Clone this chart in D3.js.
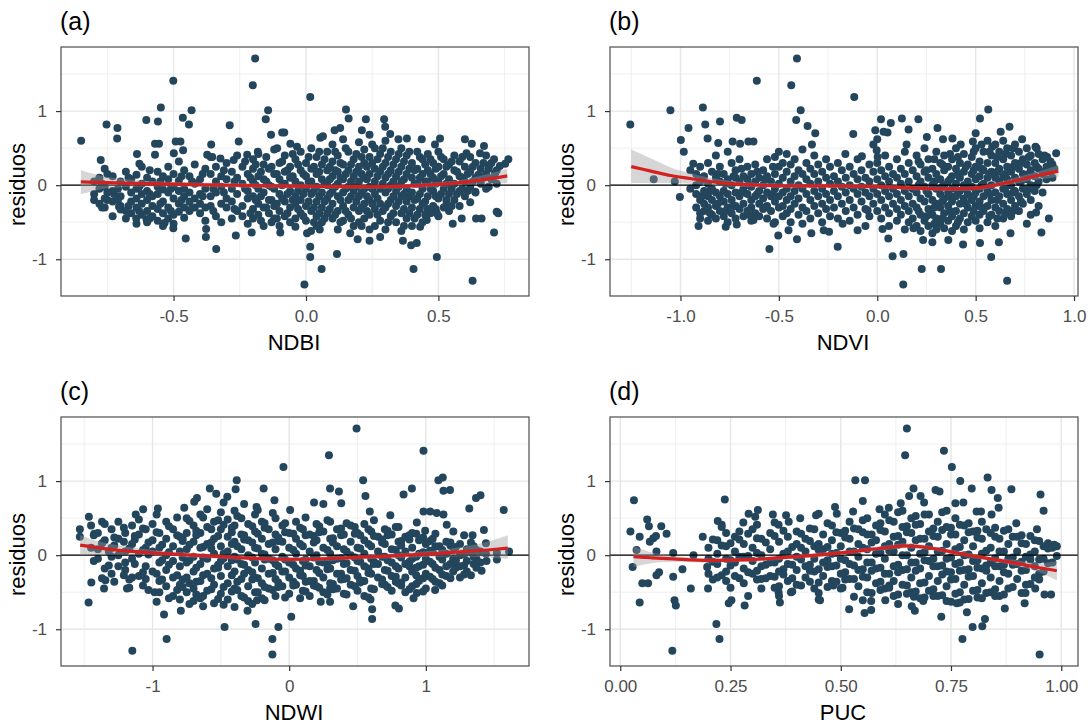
<!DOCTYPE html>
<html><head><meta charset="utf-8">
<script src="https://cdn.jsdelivr.net/npm/d3@7"></script>
<style>body{margin:0;background:#fff}</style>
</head><body>
<svg id="chart" width="1092" height="727"></svg>
<script>
// ---------- DATA (each entry: [x, y1, y2, ...] residual values at that x) ----------
const yTicks = [-1, 0, 1];
const yTickLabels = ["-1", "0", "1"];
const yMinor = [-1.5, -0.5, 0.5, 1.5];
const yLim = [-1.496, 1.865];

const ndbiTicks = [-0.5, 0, 0.5];
const ndbiTickLabels = ["-0.5", "0.0", "0.5"];
const ndbiMinor = [-0.75, -0.25, 0.25, 0.75];
const ndbiLim = [-0.925, 0.842];

const ndviTicks = [-1, -0.5, 0, 0.5, 1];
const ndviTickLabels = ["-1.0", "-0.5", "0.0", "0.5", "1.0"];
const ndviMinor = [-1.25, -0.75, -0.25, 0.25, 0.75];
const ndviLim = [-1.358, 1.02];

const ndwiTicks = [-1, 0, 1];
const ndwiTickLabels = ["-1", "0", "1"];
const ndwiMinor = [-1.5, -0.5, 0.5, 1.5];
const ndwiLim = [-1.67, 1.755];

const pucTicks = [0, 0.25, 0.5, 0.75, 1];
const pucTickLabels = ["0.00", "0.25", "0.50", "0.75", "1.00"];
const pucMinor = [0.125, 0.375, 0.625, 0.875];
const pucLim = [-0.0233, 1.038];

const ndbiPts = [
[-0.849,0.60],[-0.753,0.82],[-0.712,0.77],[-0.713,0.63],[-0.775,0.34],[-0.501,1.41],[-0.548,1.05],[-0.432,1.01],[-0.603,0.88],[-0.559,0.86],[-0.465,0.91],[-0.442,0.82],[-0.192,1.71],[-0.201,1.35],[-0.143,1.01],[-0.152,0.89],[-0.288,0.81],[-0.132,0.68],[-0.09,0.71],[-0.454,-0.72],[-0.378,-0.70],[-0.339,-0.86],[-0.265,-0.68],[-0.205,-0.64],[-0.377,-0.59],[-0.097,-0.64],[-0.501,-0.58],[-0.534,-0.51],[-0.641,-0.45],[-0.602,-0.46],[-0.725,-0.12],[-0.75,-0.20],[-0.706,-0.29],[-0.638,0.42],[-0.629,0.29],[-0.570,0.41],[-0.570,0.56],[-0.555,0.56],[-0.492,0.59],[-0.474,0.59],[-0.499,0.43],[-0.464,0.47],[-0.358,0.55],[-0.373,0.41],[-0.354,0.38],[-0.323,0.36],[-0.273,0.34],[-0.254,0.59],[-0.222,0.41],[-0.182,0.45],[-0.109,0.50],[-0.059,0.56],[-0.034,0.52],
[0.016,1.19],[0.151,1.02],[0.161,0.90],[0.226,0.89],[0.295,0.89],[0.299,0.79],[0.108,0.74],[0.129,0.77],[0.054,0.64],[0.064,0.66],[0.211,0.74],[0.318,0.69],[0.349,0.62],[0.381,0.63],[0.437,0.62],[0.487,0.55],[0.506,0.63],[0.600,0.62],[0.626,0.56],[0.672,0.53],[0.606,0.43],[0.657,0.43],[0.692,0.27],[0.732,0.26],[0.764,0.35],[0.752,0.29],[0.714,0.16],[0.651,0.14],[-0.082,0.71],
[-0.006,-1.34],[0.016,-0.83],[0.016,-0.97],[0.059,-1.13],[0.117,-0.93],[0.004,-0.65],[0.019,-0.62],[0.052,-0.60],[0.167,-0.65],[0.195,-0.73],[0.240,-0.75],[0.280,-0.70],[0.366,-0.75],[0.406,-1.13],[0.397,-0.81],[0.418,-0.78],[0.494,-0.97],[0.629,-1.29],[0.710,-0.64],[0.720,-0.36],[0.726,-0.38],[0.642,-0.45],[0.663,-0.45],[0.588,-0.45],[0.554,-0.52],[0.620,-0.23],[0.639,-0.09],[0.494,-0.38],[0.531,-0.25],[0.456,-0.47],[0.431,-0.56],[-0.040,-0.56],
[-0.80,0.05,-0.12,-0.2],[-0.78,0.1,-0.05,-0.25],[-0.76,0.22,-0.02,-0.18,-0.3],[-0.73,0.12,-0.08,-0.22,-0.42],[-0.70,0.05,-0.15,-0.28,-0.33],[-0.68,0.18,-0.02,-0.35,-0.45],[-0.66,0.08,-0.1,-0.22,-0.38],[-0.64,0.14,-0.05,-0.18,-0.3,-0.52],[-0.62,0.25,0.02,-0.12,-0.25,-0.4],[-0.60,0.1,-0.08,-0.2,-0.35,-0.5],[-0.58,0.05,-0.15,-0.28,-0.42],[-0.56,0.18,-0.02,-0.12,-0.32,-0.48],[-0.54,0.12,-0.06,-0.22,-0.38,-0.55],[-0.52,0.25,0.08,-0.1,-0.3,-0.45],[-0.50,0.15,-0.02,-0.18,-0.4,-0.52],[-0.48,0.32,0.06,-0.08,-0.25,-0.36],[-0.46,0.2,-0.05,-0.15,-0.3,-0.44],[-0.44,0.12,-0.1,-0.22,-0.35],[-0.42,0.28,0.02,-0.18,-0.3],[-0.40,0.08,-0.12,-0.25,-0.38],[-0.38,0.22,-0.05,-0.3,-0.48],[-0.36,0.38,0.15,-0.15,-0.28],[-0.34,0.25,0.05,-0.1,-0.42],[-0.32,0.12,-0.02,-0.25,-0.5],[-0.30,0.3,0.08,-0.18,-0.3],[-0.28,0.18,-0.05,-0.22,-0.45],[-0.26,0.4,0.1,-0.12,-0.35],[-0.24,0.25,0.02,-0.28,-0.42],[-0.22,0.15,-0.08,-0.18,-0.52],[-0.20,0.35,0.22,0.05,-0.15,-0.32,-0.45],[-0.18,0.42,0.12,-0.05,-0.25,-0.4],[-0.16,0.28,0.08,-0.1,-0.3,-0.55],[-0.14,0.22,0.0,-0.2,-0.38],[-0.12,0.48,0.15,-0.05,-0.28,-0.45],[-0.10,0.3,0.08,-0.12,-0.35,-0.55],[-0.08,0.4,0.18,0.02,-0.22,-0.42],[-0.06,0.25,0.1,-0.08,-0.3,-0.5],[-0.04,0.35,0.05,-0.15,-0.25,-0.45],[-0.02,0.45,0.2,0.0,-0.2,-0.38],[0.00,0.3,0.12,-0.05,-0.28,-0.48],[0.02,0.5,0.22,0.05,-0.12,-0.35],[0.04,0.38,0.15,-0.02,-0.22,-0.42,-0.55],[0.06,0.28,0.08,-0.1,-0.3,-0.5],[0.08,0.45,0.2,0.0,-0.18,-0.38],[0.10,0.55,0.32,0.12,-0.08,-0.25,-0.45],[0.12,0.4,0.18,0.02,-0.15,-0.35,-0.6],[0.14,0.62,0.28,0.08,-0.1,-0.28,-0.48],[0.16,0.45,0.2,-0.02,-0.2,-0.4],[0.18,0.35,0.12,-0.08,-0.3,-0.55],[0.20,0.58,0.25,0.05,-0.15,-0.35,-0.5],[0.22,0.48,0.3,0.1,-0.05,-0.25,-0.45],[0.24,0.68,0.38,0.15,-0.02,-0.2,-0.4,-0.6],[0.26,0.5,0.22,0.05,-0.12,-0.32,-0.55],[0.28,0.42,0.18,-0.05,-0.25,-0.48],[0.30,0.6,0.3,0.1,-0.1,-0.3,-0.6],[0.32,0.45,0.2,0.0,-0.2,-0.42],[0.34,0.35,0.12,-0.08,-0.28,-0.5],[0.36,0.5,0.25,0.05,-0.15,-0.38,-0.62],[0.38,0.4,0.15,-0.05,-0.22,-0.45],[0.40,0.3,0.1,-0.1,-0.3,-0.55],[0.42,0.45,0.22,0.02,-0.18,-0.4],[0.44,0.35,0.15,-0.05,-0.25,-0.5],[0.46,0.42,0.2,0.05,-0.15,-0.32],[0.48,0.3,0.1,-0.08,-0.28],[0.50,0.45,0.25,0.05,-0.18,-0.42],[0.52,0.35,0.15,-0.05,-0.3],[0.54,0.28,0.08,-0.12,-0.35],[0.56,0.4,0.2,0.02,-0.2],[0.58,0.32,0.12,-0.08,-0.28],[0.60,0.25,0.05,-0.15],[0.62,0.38,0.18,-0.02],[0.64,0.3,0.1,-0.1],[0.66,0.22,0.02],[0.68,0.4,0.15,-0.05],[0.70,0.3,0.08],[0.72,0.2,0.02],
[-0.77,0.02,-0.3],[-0.75,0.15,-0.1],[-0.71,-0.05,-0.2],[-0.67,0.1,-0.28],[-0.63,-0.02,-0.35],[-0.59,0.2,-0.12,-0.45],[-0.55,0.05,-0.25],[-0.51,-0.05,-0.35],[-0.47,0.12,-0.2],[-0.43,0.05,-0.3],[-0.39,0.15,-0.15],[-0.35,-0.05,-0.35],[-0.31,0.2,-0.1],[-0.27,0.05,-0.32],[-0.23,0.32,-0.05],[-0.21,0.1,-0.38],[-0.19,0.28,0.0,-0.2],[-0.17,0.18,-0.15,-0.48],[-0.15,0.38,0.05,-0.3],[-0.13,0.25,-0.02,-0.2,-0.5],[-0.11,0.15,-0.25,-0.45],[-0.09,0.32,0.0,-0.18],[-0.07,0.2,-0.12,-0.38],[-0.05,0.42,0.12,-0.2],[-0.03,0.28,-0.08,-0.32],[-0.01,0.15,-0.12,-0.42],[0.01,0.38,0.05,-0.22],[0.03,0.25,-0.08,-0.3,-0.5],[0.05,0.45,0.18,-0.15,-0.38],[0.07,0.35,0.02,-0.22,-0.45],[0.09,0.25,0.08,-0.12,-0.32],[0.11,0.45,0.2,-0.02,-0.4],[0.13,0.3,0.1,-0.2,-0.5],[0.15,0.5,0.15,-0.05,-0.35],[0.17,0.28,0.05,-0.15,-0.45],[0.19,0.42,0.18,-0.02,-0.22],[0.21,0.38,0.15,-0.1,-0.3,-0.55],[0.23,0.25,0.08,-0.15,-0.35],[0.25,0.55,0.3,-0.05,-0.25],[0.27,0.35,0.12,-0.18,-0.4],[0.29,0.5,0.25,0.02,-0.35],[0.31,0.38,0.15,-0.05,-0.25,-0.5],[0.33,0.28,0.05,-0.15,-0.38],[0.35,0.42,0.18,-0.02,-0.22],[0.37,0.32,0.08,-0.12,-0.32,-0.55],[0.39,0.45,0.22,-0.15,-0.38],[0.41,0.2,0.02,-0.2,-0.45],[0.43,0.38,0.1,-0.12,-0.32],[0.45,0.28,0.05,-0.22,-0.4],[0.47,0.35,0.15,-0.05,-0.38],[0.49,0.22,0.02,-0.15,-0.32],[0.51,0.38,0.12,-0.12],[0.53,0.25,0.02,-0.2],[0.55,0.32,-0.05,-0.28],[0.57,0.18,-0.12],[0.59,0.38,0.1,-0.05],[0.61,0.15,-0.08],[0.63,0.25,0.05],[0.67,0.3,0.1],[0.69,0.22,-0.02],[0.71,0.35,0.12]
];

const ndviPts = [
[-1.255,0.82],[-1.051,1.01],[-1.136,0.08],[-1.029,0.05],[-1.003,-0.16],[-0.998,0.61],[-0.983,0.45],[-0.959,0.77],[-0.935,0.29],[-0.886,1.05],[-0.874,0.82],[-0.862,0.63],[-0.799,0.86],[-0.808,0.57],[-0.714,0.91],[-0.689,0.88],[-0.735,0.59],[-0.697,0.56],[-0.655,0.59],[-0.629,0.59],[-0.612,1.41],[-0.437,1.35],[-0.408,1.71],[-0.389,1.01],[-0.412,0.88],[-0.354,0.80],[-0.315,0.70],[-0.332,0.55],[-0.548,-0.86],[-0.503,-0.68],[-0.451,-0.61],[-0.408,-0.73],[-0.908,-0.55],[-0.770,-0.56],[-0.714,-0.53],[-0.629,-0.47],[-0.527,-0.52],[-0.335,-0.65],[-0.272,-0.61],[-0.201,-0.83],[-0.245,-0.63],
[-0.117,1.19],[-0.122,0.69],[0.019,0.89],[0.069,0.84],[-0.010,0.74],[0.032,0.72],[0.052,0.71],[0.125,0.90],[0.159,0.75],[0.209,0.89],[0.149,0.55],[0.252,0.65],[0.306,0.77],[0.334,0.62],[0.382,0.63],[0.424,0.55],[0.5,0.70],[0.522,0.90],[0.564,1.02],[0.486,0.59],[0.584,0.52],[0.627,0.72],[0.672,0.79],[0.736,0.62],[0.804,0.52],[0.863,0.38],[0.909,0.43],[0.872,-0.45],[0.834,-0.64],[0.807,-0.37],[0.760,-0.52],[0.677,-0.65],[0.660,-1.29],[0.579,-0.97],[0.618,-0.77],[0.522,-0.78],[0.436,-0.80],[0.324,-1.13],[0.226,-1.13],[0.132,-1.34],[0.133,-0.93],[0.078,-0.96],[0.056,-0.72],[0.027,-0.59],[0.184,-0.58],[0.233,-0.74],[0.280,-0.77],[0.361,-0.74],[-0.1,-0.61],[-0.176,-0.52],[-0.049,-0.34],[-0.162,0.42],[-0.078,0.39],[-0.003,0.47],[0.002,0.38],
[-0.95,0.2,-0.05],[-0.92,0.15,0.0,-0.12,-0.3],[-0.90,0.25,0.05,-0.2,-0.38,-0.45],[-0.88,0.12,-0.08,-0.25,-0.35],[-0.86,0.3,0.02,-0.15,-0.3,-0.48],[-0.84,0.18,-0.05,-0.2,-0.4],[-0.82,0.4,0.1,-0.1,-0.28,-0.45],[-0.80,0.25,0.05,-0.15,-0.35],[-0.78,0.15,-0.08,-0.22,-0.42],[-0.76,0.45,0.08,-0.12,-0.3,-0.5],[-0.74,0.3,0.0,-0.2,-0.38],[-0.72,0.2,0.1,-0.1,-0.28,-0.45],[-0.70,0.35,0.05,-0.15,-0.32],[-0.68,0.12,-0.05,-0.25,-0.42],[-0.66,0.25,0.08,-0.12,-0.35],[-0.64,0.15,-0.02,-0.2,-0.3,-0.48],[-0.62,0.28,0.05,-0.15,-0.38],[-0.60,0.1,-0.08,-0.25,-0.42],[-0.58,0.2,0.0,-0.18,-0.32],[-0.56,0.35,0.12,-0.1,-0.28,-0.45],[-0.54,0.05,-0.15,-0.35],[-0.52,0.38,0.15,-0.05,-0.22,-0.5],[-0.50,0.45,0.25,0.02,-0.15,-0.3],[-0.48,0.3,0.1,-0.1,-0.28,-0.42],[-0.46,0.42,0.18,-0.05,-0.2,-0.38],[-0.44,0.28,0.05,-0.15,-0.32,-0.5],[-0.42,0.35,0.12,-0.08,-0.25],[-0.40,0.2,0.0,-0.18,-0.4],[-0.38,0.48,0.15,-0.05,-0.3,-0.52],[-0.36,0.3,0.08,-0.12,-0.35],[-0.34,0.22,0.02,-0.2,-0.45],[-0.32,0.4,0.15,-0.08,-0.28],[-0.30,0.28,0.05,-0.15,-0.38],[-0.28,0.18,-0.05,-0.25,-0.5],[-0.26,0.35,0.1,-0.12,-0.32],[-0.24,0.25,0.02,-0.2,-0.42],[-0.22,0.12,-0.08,-0.3],[-0.20,0.3,0.05,-0.15,-0.45],[-0.18,0.2,-0.02,-0.25],[-0.16,0.1,-0.1,-0.35],[-0.14,0.25,0.0,-0.2,-0.48],[-0.12,0.15,-0.05,-0.3],[-0.10,0.35,0.08,-0.12,-0.4],[-0.08,0.2,-0.02,-0.22],[-0.06,0.1,-0.1,-0.32,-0.55],[-0.04,0.28,0.05,-0.15,-0.42],[-0.02,0.55,0.18,-0.05,-0.25],[0.00,0.62,0.3,0.08,-0.12,-0.35],[0.02,0.2,0.0,-0.2,-0.45],[0.04,0.4,0.12,-0.08,-0.3],[0.06,0.25,0.05,-0.15,-0.38,-0.55],[0.08,0.15,-0.05,-0.25],[0.10,0.35,0.1,-0.12,-0.32,-0.48],[0.12,0.22,0.02,-0.2,-0.4],[0.14,0.45,0.15,-0.08,-0.28,-0.6],[0.16,0.3,0.05,-0.15,-0.35,-0.5],[0.18,0.2,-0.05,-0.25,-0.45],[0.20,0.4,0.12,-0.1,-0.3,-0.55],[0.22,0.28,0.05,-0.18,-0.4,-0.62],[0.24,0.5,0.18,-0.02,-0.22,-0.48],[0.26,0.35,0.1,-0.12,-0.32,-0.55],[0.28,0.22,0.0,-0.2,-0.4,-0.65],[0.30,0.45,0.15,-0.05,-0.25,-0.45,-0.6],[0.32,0.3,0.08,-0.12,-0.3,-0.52],[0.34,0.4,0.2,0.0,-0.18,-0.38,-0.58],[0.36,0.25,0.05,-0.1,-0.28,-0.48],[0.38,0.35,0.12,-0.05,-0.22,-0.42,-0.62],[0.40,0.5,0.22,0.02,-0.15,-0.35,-0.55],[0.42,0.3,0.1,-0.08,-0.25,-0.45],[0.44,0.42,0.18,0.0,-0.18,-0.38,-0.6],[0.46,0.28,0.05,-0.12,-0.3,-0.5],[0.48,0.38,0.15,-0.02,-0.2,-0.42],[0.50,0.5,0.25,0.08,-0.1,-0.28,-0.48],[0.52,0.32,0.12,-0.05,-0.22,-0.4,-0.58],[0.54,0.45,0.2,0.02,-0.15,-0.35],[0.56,0.6,0.3,0.1,-0.08,-0.28,-0.5],[0.58,0.4,0.18,0.0,-0.2,-0.4],[0.60,0.55,0.3,0.1,-0.1,-0.3,-0.55],[0.62,0.45,0.22,0.05,-0.15,-0.35],[0.64,0.6,0.35,0.12,-0.05,-0.25,-0.45],[0.66,0.5,0.25,0.08,-0.12,-0.32],[0.68,0.4,0.18,0.0,-0.2,-0.42],[0.70,0.55,0.3,0.1,-0.08,-0.28],[0.72,0.45,0.22,0.05,-0.15,-0.35],[0.74,0.35,0.15,-0.05,-0.25],[0.76,0.5,0.28,0.08,-0.12],[0.78,0.4,0.2,0.0,-0.2,-0.4],[0.80,0.3,0.12,-0.08],[0.82,0.42,0.22,0.05,-0.28],[0.84,0.35,0.15,-0.1],[0.86,0.25,0.08],[0.88,0.32,0.18],[0.90,0.22],
[0.21,0.32,0.0,-0.35],[0.25,0.2,-0.08,-0.42],[0.29,0.35,0.05,-0.3,-0.52],[0.33,0.28,-0.02,-0.22,-0.45],[0.37,0.42,0.08,-0.15,-0.35],[0.41,0.38,0.15,-0.12,-0.5],[0.45,0.25,-0.05,-0.25],[0.49,0.45,0.2,-0.15,-0.35],[0.53,0.55,0.22,0.0,-0.3],[0.57,0.45,0.15,-0.12,-0.42],[0.61,0.38,0.18,-0.2,-0.45],[0.65,0.42,0.15,-0.05,-0.38],[0.69,0.5,0.25,-0.1,-0.35],[0.73,0.3,0.05,-0.22],[0.77,0.38,0.15,-0.05],[0.81,0.5,0.25,0.0],[0.85,0.4,0.18],[0.89,0.28,0.1],[-0.89,0.1,-0.15],[-0.85,-0.08,-0.38],[-0.81,0.15,-0.25],[-0.77,0.02,-0.35],[-0.73,0.12,-0.28],[-0.69,0.22,-0.1],[-0.65,0.0,-0.4],[-0.61,0.18,-0.12],[-0.57,0.08,-0.3],[-0.53,0.25,-0.12]
];

const ndwiPts = [
[-1.532,0.35],[-1.532,0.25],[-1.466,0.52],[-1.426,0.29],[-1.468,-0.64],[-1.448,-0.37],[-1.355,-0.45],[-1.345,-0.34],[-1.187,-0.45],[-1.148,-1.29],[-1.123,0.55],[-1.069,0.62],[-0.961,0.63],[-0.985,-0.50],[-0.916,-0.80],[-0.897,-1.13],[-0.793,-0.75],[-0.768,0.64],[-0.695,0.72],[-0.675,0.77],[-0.581,0.90],[-0.534,0.83],[-0.453,0.79],[-0.384,1.01],[-0.392,0.89],[-0.473,-0.97],[-0.305,-0.75],[-0.246,-0.93],[-0.236,-0.61],[-0.187,0.90],[-0.108,0.74],[-0.079,-0.97],[-0.123,-1.13],[-0.123,-1.34],[-0.042,1.19],[0.015,-0.83],[0.007,0.61],[-0.239,0.65],
[0.291,1.35],[0.299,0.90],[0.364,0.86],[0.381,0.70],[0.493,1.71],[0.541,1.01],[0.558,0.80],[0.182,0.71],[0.250,0.69],[0.590,0.59],[0.740,0.54],[0.837,0.82],[0.898,0.90],[0.983,1.41],[1.092,1.01],[1.124,1.05],[1.129,0.87],[1.177,0.88],[0.983,0.59],[1.032,0.59],[1.080,0.57],[1.129,0.55],[0.934,0.44],[0.995,0.33],[1.153,0.41],[1.201,0.32],[1.318,0.63],[1.367,0.77],[1.400,0.81],[1.425,0.34],[1.342,0.27],[1.570,0.61],[1.609,0.05],[1.444,-0.08],[1.408,-0.21],[0.468,-0.69],[0.607,-0.73],[0.607,-0.86],[0.777,-0.68],[0.803,-0.72],[0.595,-0.60],[0.299,-0.63],[0.231,-0.63],[0.299,-0.45],[0.121,-0.36],[0.910,-0.58],[0.934,-0.51],[1.068,-0.47],
[-1.45,0.1,0.4],[-1.40,0.3,0.08,-0.05],[-1.35,0.42,0.2,-0.18],[-1.30,0.35,0.1,-0.02,-0.25],[-1.25,0.45,0.22,0.0,-0.15],[-1.20,0.3,0.05,-0.1,-0.2],[-1.15,0.4,0.15,-0.05,-0.3],[-1.10,0.48,0.28,0.02,-0.28],[-1.05,0.35,0.1,-0.15,-0.32],[-1.00,0.42,0.2,0.05,-0.22],[-0.95,0.3,0.1,-0.1,-0.35,-0.5],[-0.90,0.45,0.22,0.0,-0.2,-0.42],[-0.85,0.35,0.12,-0.08,-0.3,-0.55],[-0.80,0.25,0.05,-0.15,-0.4,-0.6],[-0.75,0.5,0.3,0.08,-0.1,-0.3,-0.5],[-0.70,0.4,0.18,-0.02,-0.22,-0.45,-0.62],[-0.65,0.55,0.3,0.1,-0.12,-0.35,-0.58],[-0.60,0.62,0.38,0.15,-0.05,-0.25,-0.48],[-0.55,0.45,0.22,0.02,-0.18,-0.4,-0.65],[-0.50,0.58,0.35,0.12,-0.08,-0.28,-0.52],[-0.45,0.48,0.25,0.05,-0.15,-0.38,-0.6],[-0.40,0.6,0.4,0.18,-0.02,-0.22,-0.45,-0.7],[-0.35,0.5,0.28,0.08,-0.12,-0.32,-0.55],[-0.30,0.42,0.2,0.0,-0.2,-0.42,-0.62],[-0.25,0.55,0.32,0.1,-0.1,-0.3,-0.5],[-0.20,0.45,0.22,0.02,-0.18,-0.38,-0.58],[-0.15,0.35,0.15,-0.05,-0.25,-0.45],[-0.10,0.5,0.28,0.08,-0.12,-0.32,-0.55],[-0.05,0.4,0.18,-0.02,-0.22,-0.42],[0.00,0.3,0.1,-0.1,-0.3,-0.52],[0.05,0.45,0.22,0.02,-0.18,-0.4],[0.10,0.35,0.12,-0.08,-0.28,-0.48],[0.15,0.28,0.05,-0.15,-0.35,-0.55],[0.20,0.42,0.2,0.0,-0.2,-0.42],[0.25,0.32,0.1,-0.1,-0.3,-0.5],[0.30,0.45,0.22,0.02,-0.18,-0.38],[0.35,0.35,0.12,-0.05,-0.25,-0.45],[0.40,0.28,0.08,-0.12,-0.32,-0.52],[0.45,0.4,0.18,0.0,-0.2,-0.4],[0.50,0.3,0.1,-0.08,-0.28,-0.48],[0.55,0.42,0.2,0.02,-0.15,-0.35,-0.55],[0.60,0.32,0.12,-0.05,-0.25,-0.45],[0.65,0.25,0.05,-0.12,-0.3],[0.70,0.35,0.15,-0.02,-0.2,-0.4],[0.75,0.28,0.08,-0.1,-0.28,-0.48],[0.80,0.38,0.18,0.0,-0.18,-0.38],[0.85,0.25,0.05,-0.12,-0.3,-0.5],[0.90,0.3,0.1,-0.05,-0.22,-0.42],[0.95,0.2,0.02,-0.15,-0.35],[1.00,0.15,-0.05,-0.25,-0.45],[1.05,0.22,0.05,-0.12,-0.32],[1.10,0.12,-0.02,-0.2,-0.38],[1.15,0.18,0.02,-0.15,-0.28],[1.20,0.1,-0.05,-0.22],[1.25,0.15,0.0,-0.15,-0.3],[1.30,0.08,-0.08,-0.22],[1.35,0.12,-0.02,-0.12],[1.40,0.05,-0.1],
[-1.43,0.27,-0.08],[-1.37,0.45,0.16,-0.31],[-1.32,0.05,-0.14],[-1.28,0.24,0.13,-0.36],[-1.21,0.37,0.18,-0.27],[-1.17,0.09,-0.33,-0.44],[-1.13,0.26,0.21,-0.12],[-1.07,0.36,0.07,-0.23,-0.41],[-1.03,0.17,0.01,-0.47],[-0.97,0.55,0.31,-0.25,-0.63],[-0.93,0.14,-0.07,-0.33],[-0.88,0.39,0.04,-0.13,-0.58],[-0.82,0.51,0.27,-0.27,-0.47],[-0.78,0.19,0.23,-0.03,-0.33,-0.43],[-0.73,0.46,0.14,-0.07,-0.38,-0.66],[-0.68,0.33,0.27,-0.17,-0.36,-0.53],[-0.63,0.51,0.11,-0.03,-0.27,-0.55,-0.69],[-0.57,0.35,0.17,0.09,-0.31,-0.46],[-0.52,0.47,0.26,-0.13,-0.17,-0.59],[-0.48,0.71,0.41,0.02,-0.04,-0.43,-0.67],[-0.42,0.37,0.31,0.15,-0.07,-0.27,-0.49],[-0.38,0.53,0.12,-0.06,-0.36,-0.47],[-0.33,0.69,0.27,0.21,-0.13,-0.25,-0.57],[-0.27,0.39,0.17,-0.03,-0.23,-0.33,-0.66],[-0.23,0.61,0.29,0.09,-0.31,-0.5],[-0.18,0.43,0.37,0.01,-0.06,-0.43,-0.61],[-0.12,0.57,0.17,-0.07,-0.24,-0.47],[-0.08,0.24,0.19,-0.15,-0.37,-0.43],[-0.03,0.43,0.31,-0.06,-0.22,-0.57],[0.03,0.29,0.07,-0.13,-0.36,-0.41],[0.08,0.37,0.15,-0.21,-0.27,-0.58],[0.12,0.51,0.27,-0.06,-0.14,-0.49],[0.18,0.26,0.17,-0.03,-0.35,-0.41],[0.22,0.39,0.31,-0.09,-0.24,-0.44],[0.28,0.47,0.07,-0.12,-0.19,-0.53],[0.32,0.23,0.17,-0.07,-0.39,-0.46],[0.38,0.36,0.27,-0.04,-0.25,-0.33],[0.42,0.43,0.05,-0.11,-0.31,-0.53],[0.48,0.38,0.29,-0.03,-0.21,-0.42],[0.52,0.27,0.09,-0.09,-0.34,-0.37],[0.58,0.35,0.15,-0.18,-0.24,-0.57],[0.62,0.47,0.26,-0.09,-0.12,-0.46],[0.68,0.21,0.17,-0.02,-0.33,-0.39],[0.72,0.33,0.27,-0.07,-0.21,-0.43],[0.78,0.38,0.07,-0.15,-0.29,-0.36],[0.82,0.19,0.13,-0.03,-0.37,-0.41],[0.88,0.27,0.21,-0.09,-0.15,-0.46],[0.93,0.29,-0.02,-0.17,-0.27,-0.39],[0.98,0.24,0.04,-0.13,-0.31,-0.49],[1.03,0.19,0.06,-0.09,-0.29],[1.07,0.29,0.12,-0.17,-0.36],[1.12,0.07,-0.06,-0.26,-0.41],[1.18,0.17,0.13,-0.12,-0.31],[1.22,0.11,-0.07,-0.17],[1.28,0.27,0.01,-0.14,-0.26],[1.33,0.17,0.04,-0.27],[1.37,0.07,-0.05,-0.17],[1.44,0.16,0.02],[1.52,0.03,-0.06]
];

const pucPts = [
[0.031,0.74],[0.023,0.32],[0.028,-0.16],[0.037,0.07],[0.044,-0.64],[0.050,-0.38],[0.063,-0.38],[0.044,0.25],[0.061,0.48],[0.065,0.39],[0.075,0.23],[0.081,0.26],[0.067,0.18],[0.093,0.39],[0.105,0.29],[0.088,-0.23],[0.082,-0.27],[0.082,0.05],[0.120,0.03],[0.120,-0.29],[0.123,-0.61],[0.126,-0.68],[0.118,-1.29],[0.141,-0.19],[0.160,-0.45],[0.166,0.0],[0.187,0.25],[0.197,-0.16],[0.199,-0.45],[0.218,-0.93],[0.225,-1.13],[0.221,0.46],[0.237,0.75],[0.230,0.38],[0.252,-0.61],[0.246,-0.65],[0.282,-0.68],[0.279,0.44],[0.291,0.56],[0.312,0.61],[0.306,0.52],[0.346,0.55],[0.359,0.41],[0.376,0.54],[0.382,0.45],[0.408,0.50],[0.362,-0.64],[0.359,-0.50],[0.387,-0.50],[0.450,-0.51],[0.450,-0.60],[0.444,0.54],[0.450,0.56],[0.487,0.65],[0.491,0.56],
[0.650,1.71],[0.646,1.35],[0.734,1.41],[0.752,1.19],[0.533,1.01],[0.555,1.01],[0.771,1.00],[0.833,1.05],[0.797,0.90],[0.842,0.88],[0.887,0.89],[0.856,0.77],[0.953,0.82],[0.960,0.60],[0.898,0.43],[0.945,0.35],[0.984,0.14],[0.665,0.90],[0.681,0.80],[0.689,0.71],[0.655,0.80],[0.636,0.70],[0.609,0.64],[0.588,0.62],[0.550,0.73],[0.528,0.59],[0.715,0.88],[0.724,0.86],[0.760,0.70],[0.778,0.71],[0.808,0.59],[0.818,0.59],[0.842,0.55],[0.858,0.64],[0.951,-1.34],[0.962,-0.53],[0.977,-0.53],[0.941,-0.45],[0.919,-0.51],[0.917,-0.65],[0.872,-0.72],[0.827,-0.86],[0.821,-0.96],[0.799,-0.97],[0.776,-1.13],[0.786,-0.77],[0.763,-0.65],[0.728,-0.83],[0.687,-0.62],[0.668,-0.75],[0.661,-0.69],[0.666,-0.56],[0.601,-0.61],[0.569,-0.74],[0.554,-0.78],[0.519,-0.73],[0.504,-0.44],[0.569,-0.62],[0.610,-0.41],[0.453,-0.61],[0.483,-0.41],
[0.20,0.1,-0.05,-0.25],[0.22,0.2,0.02,-0.12,-0.3],[0.24,0.3,0.12,-0.05,-0.22,-0.35],[0.26,0.25,0.05,-0.1,-0.28],[0.28,0.15,-0.02,-0.18,-0.38],[0.30,0.35,0.1,-0.08,-0.25],[0.32,0.22,0.0,-0.15,-0.32,-0.45],[0.34,0.3,0.08,-0.1,-0.28],[0.36,0.18,-0.05,-0.22,-0.42,-0.55],[0.38,0.25,0.05,-0.12,-0.35],[0.40,0.32,0.15,-0.02,-0.2,-0.4],[0.42,0.22,0.05,-0.15,-0.3],[0.44,0.35,0.12,-0.05,-0.22,-0.45],[0.46,0.28,0.08,-0.1,-0.28],[0.48,0.4,0.2,0.02,-0.15,-0.35],[0.50,0.3,0.12,-0.05,-0.25,-0.45],[0.52,0.45,0.22,0.05,-0.12,-0.32],[0.54,0.35,0.15,-0.02,-0.2,-0.42],[0.56,0.5,0.28,0.08,-0.1,-0.3,-0.5],[0.58,0.4,0.2,0.02,-0.18,-0.38],[0.60,0.55,0.32,0.12,-0.05,-0.25,-0.45],[0.62,0.45,0.25,0.05,-0.15,-0.35,-0.55],[0.64,0.6,0.38,0.18,0.0,-0.2,-0.4],[0.66,0.5,0.3,0.1,-0.1,-0.3,-0.5],[0.68,0.42,0.22,0.02,-0.18,-0.38,-0.58],[0.70,0.55,0.32,0.12,-0.08,-0.28,-0.48],[0.72,0.45,0.25,0.05,-0.15,-0.35,-0.55],[0.74,0.6,0.38,0.15,-0.05,-0.22,-0.42,-0.62],[0.76,0.5,0.28,0.08,-0.12,-0.32,-0.52],[0.78,0.4,0.2,0.0,-0.2,-0.4,-0.6],[0.80,0.32,0.12,-0.08,-0.28,-0.48],[0.82,0.45,0.22,0.02,-0.18,-0.38,-0.58],[0.84,0.3,0.1,-0.1,-0.3,-0.5],[0.86,0.22,0.05,-0.15,-0.35,-0.55],[0.88,0.35,0.15,-0.05,-0.25,-0.45],[0.90,0.25,0.05,-0.12,-0.32],[0.92,0.15,-0.02,-0.2,-0.4],[0.94,0.2,0.05,-0.15,-0.3],[0.96,0.12,-0.05,-0.22],[0.98,0.1,-0.1],
[0.21,0.21,-0.09,-0.33],[0.23,0.41,0.13,-0.27],[0.25,0.16,-0.07,-0.14,-0.44],[0.27,0.32,0.21,-0.02,-0.31],[0.29,0.29,-0.01,-0.23,-0.55],[0.31,0.41,0.23,0.03,-0.21,-0.33],[0.33,0.17,-0.13,-0.31],[0.35,0.44,0.26,-0.1,-0.29,-0.44],[0.37,0.33,0.02,-0.19,-0.26],[0.39,0.11,-0.13,-0.31,-0.49],[0.41,0.29,0.1,-0.06,-0.41],[0.43,0.36,0.19,-0.13,-0.21,-0.36],[0.45,0.15,0.07,-0.19,-0.37],[0.47,0.43,0.11,-0.07,-0.16,-0.43],[0.49,0.31,0.03,-0.14,-0.36],[0.51,0.33,0.24,-0.07,-0.23,-0.33],[0.53,0.36,0.05,-0.14,-0.32,-0.56],[0.55,0.47,0.31,0.1,-0.19,-0.29,-0.61],[0.57,0.28,0.17,-0.1,-0.21,-0.51],[0.59,0.43,0.34,0.03,-0.17,-0.36,-0.47],[0.61,0.47,0.15,0.06,-0.25,-0.44],[0.63,0.58,0.26,0.14,-0.13,-0.23,-0.53,-0.66],[0.65,0.39,0.31,0.0,-0.19,-0.41,-0.52],[0.67,0.53,0.41,0.2,-0.1,-0.21,-0.49],[0.69,0.55,0.22,0.04,-0.07,-0.37,-0.57],[0.71,0.36,0.26,-0.05,-0.15,-0.46,-0.55],[0.73,0.58,0.34,0.06,-0.14,-0.26,-0.54],[0.75,0.37,0.28,-0.03,-0.23,-0.33,-0.63],[0.77,0.41,0.11,-0.1,-0.21,-0.5,-0.64],[0.79,0.43,0.31,0.01,-0.19,-0.29,-0.59],[0.81,0.33,0.24,-0.07,-0.17,-0.47,-0.57],[0.83,0.35,0.06,-0.14,-0.21,-0.51],[0.85,0.37,0.25,-0.04,-0.15,-0.46,-0.55],[0.87,0.33,0.05,-0.13,-0.23,-0.53],[0.89,0.25,-0.03,-0.13,-0.43],[0.91,0.27,0.16,-0.09,-0.21,-0.51],[0.93,0.26,0.01,-0.06,-0.39],[0.95,0.19,-0.06,-0.25,-0.33],[0.97,0.16,0.09,-0.11],[0.99,0.12,-0.01]
];

// LOESS fits: [x, fit, lower, upper]
const ndbiFit = [[-0.85,0.045,-0.12,0.20],[-0.75,0.035,-0.04,0.11],[-0.6,0.02,-0.02,0.06],[-0.45,0.01,-0.02,0.04],[-0.3,0.0,-0.03,0.03],[-0.15,-0.01,-0.04,0.02],[0,-0.015,-0.045,0.015],[0.15,-0.02,-0.05,0.01],[0.3,-0.02,-0.05,0.01],[0.45,0.0,-0.03,0.03],[0.6,0.04,0.0,0.08],[0.76,0.125,0.03,0.22]];
const ndviFit = [[-1.25,0.25,0.03,0.48],[-1.15,0.19,0.03,0.36],[-1.05,0.13,0.03,0.24],[-0.95,0.09,0.02,0.16],[-0.85,0.05,0.0,0.1],[-0.75,0.02,-0.02,0.06],[-0.6,0.0,-0.03,0.03],[-0.4,-0.01,-0.04,0.02],[-0.2,-0.01,-0.04,0.02],[0.0,-0.02,-0.05,0.01],[0.2,-0.04,-0.07,-0.01],[0.35,-0.05,-0.08,-0.02],[0.5,-0.04,-0.07,-0.01],[0.6,0.0,-0.03,0.03],[0.7,0.06,0.02,0.1],[0.8,0.12,0.07,0.17],[0.92,0.19,0.11,0.27]];
const ndwiFit = [[-1.53,0.135,0.0,0.27],[-1.4,0.1,0.01,0.19],[-1.25,0.065,0.0,0.13],[-1.1,0.045,0.0,0.09],[-0.9,0.02,-0.01,0.05],[-0.7,0.0,-0.03,0.03],[-0.5,-0.02,-0.05,0.01],[-0.3,-0.04,-0.07,-0.01],[-0.1,-0.055,-0.085,-0.025],[0.1,-0.055,-0.085,-0.025],[0.3,-0.045,-0.075,-0.015],[0.5,-0.03,-0.06,0.0],[0.7,-0.015,-0.045,0.015],[0.9,0.005,-0.03,0.04],[1.1,0.025,-0.02,0.07],[1.3,0.05,-0.02,0.12],[1.45,0.07,-0.03,0.18],[1.6,0.095,-0.05,0.27]];
const pucFit = [[0.03,-0.02,-0.16,0.12],[0.07,-0.035,-0.11,0.04],[0.12,-0.05,-0.09,-0.01],[0.2,-0.07,-0.1,-0.04],[0.3,-0.06,-0.09,-0.03],[0.4,-0.02,-0.05,0.01],[0.5,0.03,0.0,0.06],[0.6,0.1,0.07,0.13],[0.65,0.125,0.09,0.16],[0.7,0.1,0.07,0.13],[0.75,0.045,0.015,0.075],[0.8,-0.01,-0.04,0.02],[0.85,-0.06,-0.09,-0.03],[0.9,-0.11,-0.15,-0.07],[0.95,-0.17,-0.23,-0.11],[0.99,-0.21,-0.34,-0.08]];

// ---------- DRAWING ----------
const FONT = '"Liberation Sans", Arial, Helvetica, sans-serif';
const svg = d3.select('#chart');
svg.append('rect').attr('width',1092).attr('height',727).attr('fill','#fff');

const PW = 468, PH = 249;
const panels = [
  {tag:'(a)', xlab:'NDBI', pts:ndbiPts, fit:ndbiFit, lim:ndbiLim, ticks:ndbiTicks, labels:ndbiTickLabels, minor:ndbiMinor, left:61, top:47},
  {tag:'(b)', xlab:'NDVI', pts:ndviPts, fit:ndviFit, lim:ndviLim, ticks:ndviTicks, labels:ndviTickLabels, minor:ndviMinor, left:610, top:47},
  {tag:'(c)', xlab:'NDWI', pts:ndwiPts, fit:ndwiFit, lim:ndwiLim, ticks:ndwiTicks, labels:ndwiTickLabels, minor:ndwiMinor, left:61, top:417},
  {tag:'(d)', xlab:'PUC', pts:pucPts, fit:pucFit, lim:pucLim, ticks:pucTicks, labels:pucTickLabels, minor:pucMinor, left:610, top:417}
];

panels.forEach((p, pi) => {
  const x = d3.scaleLinear().domain(p.lim).range([p.left, p.left + PW]);
  const y = d3.scaleLinear().domain(yLim).range([p.top + PH, p.top]);
  const g = svg.append('g');
  const clipId = 'clip' + pi;
  svg.append('clipPath').attr('id', clipId).append('rect')
    .attr('x', p.left).attr('y', p.top).attr('width', PW).attr('height', PH);

  const grid = g.append('g').attr('clip-path', `url(#${clipId})`);
  grid.selectAll('.vmin').data(p.minor).enter().append('line')
    .attr('x1', d => x(d)).attr('x2', d => x(d)).attr('y1', p.top).attr('y2', p.top + PH)
    .attr('stroke', '#ebebeb').attr('stroke-width', 0.8);
  grid.selectAll('.hmin').data(yMinor).enter().append('line')
    .attr('y1', d => y(d)).attr('y2', d => y(d)).attr('x1', p.left).attr('x2', p.left + PW)
    .attr('stroke', '#ebebeb').attr('stroke-width', 0.8);
  grid.selectAll('.vmaj').data(p.ticks).enter().append('line')
    .attr('x1', d => x(d)).attr('x2', d => x(d)).attr('y1', p.top).attr('y2', p.top + PH)
    .attr('stroke', '#e6e6e6').attr('stroke-width', 1.4);
  grid.selectAll('.hmaj').data(yTicks).enter().append('line')
    .attr('y1', d => y(d)).attr('y2', d => y(d)).attr('x1', p.left).attr('x2', p.left + PW)
    .attr('stroke', '#e6e6e6').attr('stroke-width', 1.4);

  const flat = [];
  p.pts.forEach(c => { for (let i = 1; i < c.length; i++) flat.push([c[0], c[i]]); });
  const pg = g.append('g').attr('clip-path', `url(#${clipId})`);
  pg.selectAll('circle').data(flat).enter().append('circle')
    .attr('cx', d => x(d[0])).attr('cy', d => y(d[1])).attr('r', 4)
    .attr('fill', '#24465d');

  pg.append('line').attr('x1', p.left).attr('x2', p.left + PW)
    .attr('y1', y(0)).attr('y2', y(0)).attr('stroke', '#000').attr('stroke-width', 1.2);

  const area = d3.area().x(d => x(d[0])).y0(d => y(d[2])).y1(d => y(d[3])).curve(d3.curveCatmullRom);
  pg.append('path').datum(p.fit).attr('d', area).attr('fill', '#999999').attr('fill-opacity', 0.4);
  const line = d3.line().x(d => x(d[0])).y(d => y(d[1])).curve(d3.curveCatmullRom);
  pg.append('path').datum(p.fit).attr('d', line).attr('fill', 'none')
    .attr('stroke', '#d42020').attr('stroke-width', 3.2);

  g.append('rect').attr('x', p.left).attr('y', p.top).attr('width', PW).attr('height', PH)
    .attr('fill', 'none').attr('stroke', '#4d4d4d').attr('stroke-width', 1.2);

  const xa = g.append('g').attr('transform', `translate(0,${p.top + PH})`)
    .call(d3.axisBottom(x).tickValues(p.ticks).tickFormat((d, i) => p.labels[i]).tickSize(5).tickSizeOuter(0).tickPadding(9));
  const ya = g.append('g').attr('transform', `translate(${p.left},0)`)
    .call(d3.axisLeft(y).tickValues(yTicks).tickFormat((d, i) => yTickLabels[i]).tickSize(5).tickSizeOuter(0).tickPadding(9));
  [xa, ya].forEach(a => {
    a.select('.domain').remove();
    a.selectAll('.tick line').attr('stroke', '#333').attr('stroke-width', 1.2);
    a.selectAll('.tick text').attr('fill', '#4d4d4d').style('font-family', FONT).style('font-size', '17px');
  });

  g.append('text').attr('x', p.left + PW / 2 - 1).attr('y', p.top + PH + 54)
    .attr('text-anchor', 'middle').style('font-family', FONT).style('font-size', '22px')
    .attr('fill', '#000').text(p.xlab);
  g.append('text').attr('transform', `translate(${p.left - 36},${p.top + PH / 2 + 13}) rotate(-90)`)
    .attr('text-anchor', 'middle').style('font-family', FONT).style('font-size', '22px')
    .attr('fill', '#000').text('residuos');

  g.append('text').attr('x', p.left - 1).attr('y', p.top - 17)
    .style('font-family', FONT).style('font-size', '25px').attr('fill', '#000').text(p.tag);
});
</script>
</body></html>
